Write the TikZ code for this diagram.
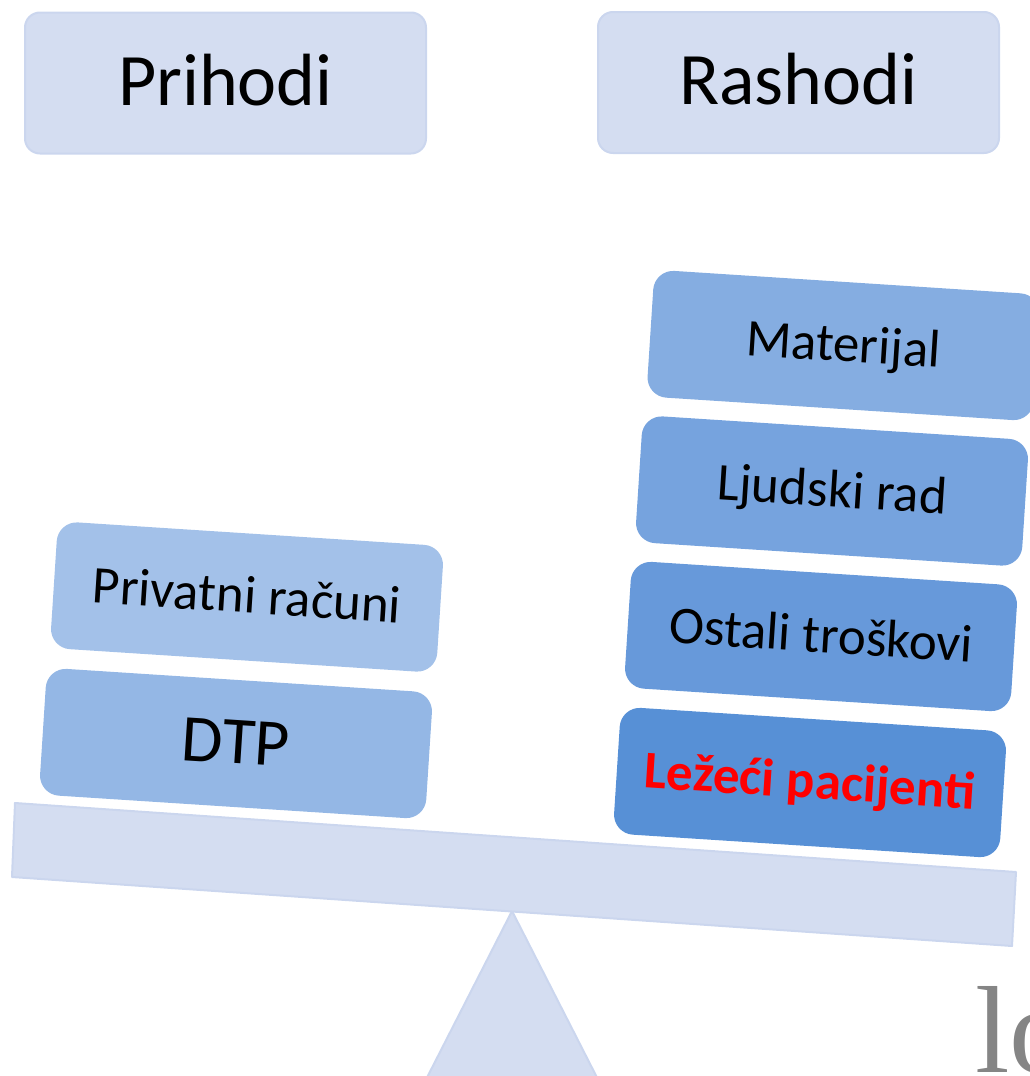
\documentclass[tikz,border=0pt]{standalone}
\usepackage{fontspec}
\setmainfont{Carlito}
\newfontfamily\logofont{Liberation Serif}
\definecolor{hdr}{HTML}{D4DDF1}
\definecolor{hdredge}{HTML}{CBD6EE}
\definecolor{cPriv}{HTML}{A3C1E9}
\definecolor{cDtp}{HTML}{94B7E5}
\definecolor{cMat}{HTML}{85ADE1}
\definecolor{cLjud}{HTML}{76A3DE}
\definecolor{cOst}{HTML}{6799DA}
\definecolor{cLez}{HTML}{5790D6}
\definecolor{logogray}{HTML}{858585}
\tikzset{
  header/.style={draw=hdredge, line width=2pt, fill=hdr, rounded corners=15pt,
    minimum width=401pt, minimum height=141pt, inner sep=0pt,
    font=\fontsize{74}{80}\selectfont, text height=59pt, text depth=15pt},
  block/.style={rounded corners=20pt, minimum width=387pt, minimum height=127pt,
    inner sep=0pt, rotate=-3.7,
    font=\fontsize{53}{60}\selectfont, text height=42.4pt, text depth=10.6pt},
  plank/.style={draw=hdredge, line width=2pt, fill=hdr, line join=round},
}
\begin{document}
\begin{tikzpicture}[x=1pt,y=1pt]
\useasboundingbox (0,0) rectangle (1030,-1076);
\clip (0,0) rectangle (1030,-1076);
% headers
\node[header] (prihodi) at (225.5,-83) {Prihodi};
\node[header] (rashodi) at (798.5,-82.5) {Rashodi};
% fulcrum and beam
\path[plank] (512,-911) -- (390,-1150) -- (634,-1150) -- cycle;
\path[plank] (15,-803) -- (1016,-872) -- (1012,-946) -- (12,-877) -- cycle;
% left stack
\node[block, fill=cPriv] (privatni) at (247,-597) {Privatni računi};
\node[block, fill=cDtp, font=\fontsize{67}{72}\selectfont, text height=53.6pt, text depth=13.4pt] (dtp) at (236,-743.5) {DTP};
% right stack
\node[block, fill=cMat] (materijal) at (843.5,-345.5) {Materijal};
\node[block, fill=cLjud] (ljudski) at (832,-491) {Ljudski rad};
\node[block, fill=cOst] (ostali) at (821,-636.5) {Ostali troškovi};
\node[block, fill=cLez, text=red, font=\fontsize{53}{60}\selectfont\bfseries, text height=42.4pt, text depth=10.6pt] (lezeci) at (810,-782.5) {Ležeći pacijenti};
% partial logo
\node[anchor=base west, inner sep=0pt, text=logogray, font=\logofont\fontsize{124}{130}\selectfont] (logo) at (975,-1072) {lo};
\end{tikzpicture}
\end{document}
